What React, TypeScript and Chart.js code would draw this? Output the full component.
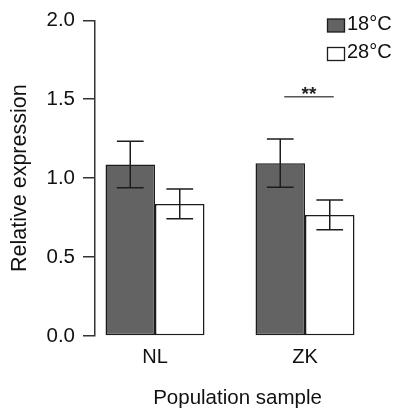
import React, { useEffect, useRef } from "react";
import { Chart, registerables } from "chart.js";

Chart.register(...registerables);

const categories = ["NL", "ZK"];
const seriesLabels = ["18°C", "28°C"];
const values18 = [1.086, 1.095];
const values28 = [0.837, 0.767];
const errors18 = [0.147, 0.153];
const errors28 = [0.094, 0.094];
const yTicks = [0, 0.5, 1.0, 1.5, 2.0];
const sigCategory = 1;
const sigValue = 1.515;
const sigText = "**";

const FONT = "'Liberation Sans', Arial, Helvetica, sans-serif";
const INK = "#1c1c1c";
const DARK = "#636363";

const errorBarPlugin = {
  id: "errorBars",
  afterDatasetsDraw(chart: any) {
    const ctx = chart.ctx;
    const yScale = chart.scales.y;
    ctx.save();
    ctx.strokeStyle = INK;
    ctx.lineWidth = 1.5;
    chart.data.datasets.forEach((ds: any, di: number) => {
      const meta = chart.getDatasetMeta(di);
      meta.data.forEach((el: any, i: number) => {
        const v = ds.data[i].y;
        const e = ds.errors[i];
        const yTop = yScale.getPixelForValue(v + e);
        const yBot = yScale.getPixelForValue(v - e);
        const half = el.width * 0.27;
        ctx.beginPath();
        ctx.moveTo(el.x, yTop);
        ctx.lineTo(el.x, yBot);
        ctx.moveTo(el.x - half, yTop);
        ctx.lineTo(el.x + half, yTop);
        ctx.moveTo(el.x - half, yBot);
        ctx.lineTo(el.x + half, yBot);
        ctx.stroke();
      });
    });
    // significance marker
    const a = chart.getDatasetMeta(0).data[sigCategory];
    const b = chart.getDatasetMeta(1).data[sigCategory];
    const ys = yScale.getPixelForValue(sigValue);
    ctx.strokeStyle = "#555";
    ctx.lineWidth = 1.5;
    ctx.beginPath();
    ctx.moveTo(a.x + 4, ys);
    ctx.lineTo(b.x + 4, ys);
    ctx.stroke();
    ctx.fillStyle = "#222";
    ctx.font = "bold 19px " + FONT;
    ctx.textAlign = "center";
    ctx.textBaseline = "alphabetic";
    ctx.fillText(sigText, (a.x + b.x) / 2 + 4, ys + 3);
    ctx.restore();
  },
};

const legendPlugin = {
  id: "customLegend",
  afterDraw(chart: any) {
    const ctx = chart.ctx;
    ctx.save();
    chart.data.datasets.forEach((ds: any, i: number) => {
      const top = 19 + i * 28.5;
      ctx.fillStyle = ds.backgroundColor;
      ctx.strokeStyle = INK;
      ctx.lineWidth = 1.3;
      ctx.fillRect(327.5, top, 17, 13);
      ctx.strokeRect(327.5, top, 17, 13);
      ctx.fillStyle = "#111";
      ctx.font = "20px " + FONT;
      ctx.textAlign = "left";
      ctx.textBaseline = "alphabetic";
      ctx.fillText(ds.label, 347, top + 10.5);
    });
    ctx.restore();
  },
};

export default function App() {
  const ref = useRef<HTMLCanvasElement | null>(null);
  useEffect(() => {
    document.body.style.margin = "0";
    if (!ref.current) return;
    const chart = new Chart(ref.current, {
      type: "bar",
      data: {
        datasets: [
          {
            label: seriesLabels[0],
            data: categories.map((_, i) => ({ x: i, y: values18[i] })),
            errors: errors18,
            backgroundColor: DARK,
            borderColor: INK,
            borderWidth: 1.5,
            borderSkipped: false,
          } as any,
          {
            label: seriesLabels[1],
            data: categories.map((_, i) => ({ x: i, y: values28[i] })),
            errors: errors28,
            backgroundColor: "#ffffff",
            borderColor: INK,
            borderWidth: 1.5,
            borderSkipped: false,
          } as any,
        ],
      },
      options: {
        animation: false,
        responsive: false,
        categoryPercentage: 0.66,
        barPercentage: 1.0,
        layout: { padding: { top: 13, right: 15, bottom: 0, left: 0 } },
        plugins: { legend: { display: false }, tooltip: { enabled: false } },
        scales: {
          x: {
            type: "linear",
            min: -0.4,
            max: 1.5,
            offset: false,
            bounds: "ticks",
            grid: { display: false, drawTicks: false, offset: false },
            border: { display: false },
            afterBuildTicks: (scale: any) => {
              scale.ticks = categories.map((_, i) => ({ value: i }));
            },
            afterFit: (scale: any) => {
              scale.height = 78;
            },
            ticks: {
              autoSkip: false,
              maxRotation: 0,
              padding: 9,
              color: "#111",
              font: { size: 20, family: FONT },
              callback: (v: any) => categories[v as number] ?? "",
            },
            title: {
              display: true,
              text: "Population sample",
              color: "#111",
              font: { size: 20.5, family: FONT },
              padding: { top: 0, bottom: 3 },
            },
          },
          y: {
            min: 0,
            max: 2,
            afterBuildTicks: (scale: any) => {
              scale.ticks = yTicks.map((v) => ({ value: v }));
            },
            afterFit: (scale: any) => {
              scale.width = 95;
            },
            grid: {
              display: true,
              drawOnChartArea: false,
              drawTicks: true,
              tickLength: 12,
              color: "#333",
              lineWidth: 1.5,
            },
            border: { display: true, color: "#333", width: 1.5 },
            ticks: {
              padding: 8,
              color: "#111",
              font: { size: 20.5, family: FONT },
              callback: (v: any) => Number(v).toFixed(1),
            },
            title: {
              display: true,
              text: "Relative expression",
              color: "#111",
              font: { size: 21.5, family: FONT },
              padding: { top: 7, bottom: 0 },
            },
          },
        },
      } as any,
      plugins: [errorBarPlugin, legendPlugin],
    });
    return () => chart.destroy();
  }, []);
  return (
    <canvas
      ref={ref}
      width={395}
      height={414}
      style={{ position: "absolute", left: 0, top: 0, display: "block" }}
    />
  );
}
